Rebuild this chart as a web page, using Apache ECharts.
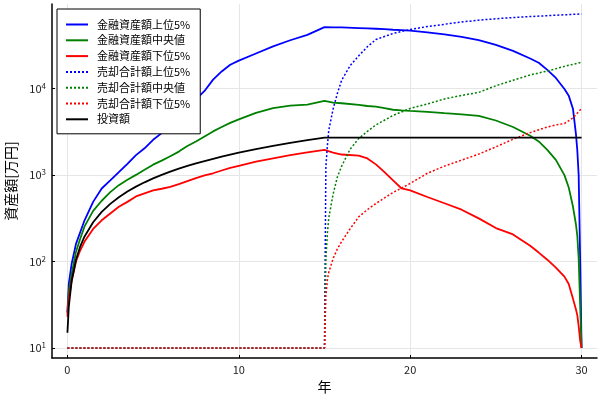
<!DOCTYPE html>
<html>
<head>
<meta charset="utf-8">
<script src="https://cdn.jsdelivr.net/npm/echarts@6/dist/echarts.min.js"></script>
<style>
  html, body { margin: 0; padding: 0; background: #fff; }
  #chart { width: 600px; height: 400px; }
</style>
</head>
<body>
<div id="chart"></div>
<script>
// 年（金融資産額・投資額）
var years = [0, 0.08, 0.25, 0.5, 0.75, 1, 1.5, 2, 2.5, 3, 3.5, 4, 4.5, 5, 5.5, 6, 6.5, 7, 7.5, 8, 8.5, 9, 9.5, 10,
  11, 12, 13, 14, 15, 15.5, 16, 17, 17.5, 18, 18.5, 19, 19.5, 20, 21, 22, 23, 24, 25, 26, 27, 27.5, 28, 28.5,
  29, 29.25, 29.5, 29.67, 29.75, 29.83, 29.92, 30];

var assetTop = [26, 55, 95, 160, 220, 300, 490, 700, 870, 1085, 1350, 1700, 2040, 2560, 3060, 3900, 4800, 5900, 7500, 9400, 12700, 15800, 18900, 21100,
  25500, 30800, 36300, 41800, 51500, 51200, 51000, 50200, 49800, 49300, 48700, 48000, 47500, 46900, 44800, 42500, 39700, 36500, 32000, 27300, 22300, 19900, 16500, 13300,
  9900, 8300, 5800, 3000, 1950, 1000, 100, 10];
var assetMid = [25, 45, 72, 130, 185, 255, 385, 505, 635, 765, 885, 1005, 1150, 1320, 1470, 1650, 1870, 2170, 2450, 2800, 3200, 3600, 4020, 4420,
  5250, 5950, 6350, 6550, 7200, 6900, 6780, 6500, 6300, 6180, 5950, 5700, 5600, 5520, 5380, 5200, 5030, 4850, 4280, 3600, 2850, 2450, 1960, 1500,
  1000, 720, 430, 270, 200, 110, 30, 10];
var assetLow = [23, 38, 60, 100, 135, 170, 238, 300, 360, 430, 490, 566, 615, 665, 695, 730, 785, 850, 920, 990, 1050, 1130, 1210, 1280,
  1430, 1560, 1700, 1830, 1960, 1820, 1730, 1680, 1560, 1330, 1080, 870, 700, 665, 558, 472, 398, 316, 244, 206, 152, 127, 105, 85,
  67, 55, 37, 28, 24, 18, 12, 10];
var invested = [15, 30, 60, 105, 150, 195, 285, 375, 465, 555, 645, 735, 825, 915, 1005, 1095, 1185, 1275, 1365, 1455, 1545, 1635, 1725, 1815,
  1995, 2175, 2355, 2535, 2715, 2715, 2715, 2715, 2715, 2715, 2715, 2715, 2715, 2715, 2715, 2715, 2715, 2715, 2715, 2715, 2715, 2715, 2715, 2715,
  2715, 2715, 2715, 2715, 2715, 2715, 2715, 2715];

// 年（売却合計額）
var saleYears = [0, 15, 15.08, 15.17, 15.25, 15.5, 15.75, 16, 16.5, 17, 17.5, 18, 19, 20, 21, 22, 23, 24, 25, 26, 27, 28, 28.5, 29, 29.5, 30];
var saleTop = [10, 10, 1250, 2200, 3300, 5800, 8800, 12500, 18500, 24000, 30500, 37000, 43500, 48300, 52300, 55500, 59000, 62000, 64300, 66500, 68200, 69800, 70700, 71500, 72300, 73000];
var saleMid = [10, 10, 106, 215, 320, 600, 950, 1270, 2000, 2650, 3200, 3800, 4900, 5900, 6650, 7600, 8350, 9050, 10800, 12500, 14400, 16000, 17000, 18100, 19100, 20200];
var saleLow = [10, 10, 40, 62, 75, 108, 140, 170, 240, 330, 398, 470, 630, 800, 1050, 1270, 1490, 1750, 2120, 2600, 3100, 3600, 3800, 3950, 4600, 5900];

function pairs(xs, ys) {
  return xs.map(function (x, i) { return [x, ys[i]]; });
}

var chart = echarts.init(document.getElementById('chart'));

var solid = function (name, color, xs, ys) {
  return {
    name: name, type: 'line', data: pairs(xs, ys),
    showSymbol: false, symbol: 'none',
    lineStyle: { color: color, width: 1.8 }, itemStyle: { color: color, opacity: 0 }
  };
};
var dotted = function (name, color, xs, ys) {
  return {
    name: name, type: 'line', data: pairs(xs, ys),
    showSymbol: false, symbol: 'none',
    lineStyle: { color: color, width: 1.5, type: [2, 2] }, itemStyle: { color: color, opacity: 0 }
  };
};

var font = '"Noto Sans CJK JP", "Noto Sans", sans-serif';

var option = {
  animation: false,
  textStyle: { fontFamily: font },
  grid: { left: 52, right: 3, top: 4, bottom: 42, containLabel: false, outerBoundsMode: 'none' },
  legend: {
    orient: 'vertical', left: 57, top: 9,
    padding: [10, 10, 9, 8],
    itemWidth: 22, itemHeight: 10, itemGap: 4.8,
    backgroundColor: '#fff', borderColor: '#000', borderWidth: 1,
    textStyle: { fontSize: 11, lineHeight: 10, color: '#000', fontFamily: font, padding: [0, 0, 0, 4] }
  },
  xAxis: {
    type: 'value', min: -0.9, max: 30.9, splitNumber: 3,
    name: '年', nameLocation: 'middle', nameGap: 20,
    nameTextStyle: { fontSize: 14, color: '#000', fontFamily: font },
    axisLine: { show: true, onZero: false, lineStyle: { color: '#000', width: 1.5 } },
    axisTick: { show: true, inside: true, length: 3, lineStyle: { color: '#000' } },
    axisLabel: {
      color: '#222', fontSize: 11, margin: 6, showMinLabel: false, showMaxLabel: false,
      formatter: function (v) { return (Math.abs(v % 10) < 1e-6) ? String(v) : ''; }
    },
    splitLine: { show: true, showMinLine: false, showMaxLine: false, lineStyle: { color: '#e6e6e6', width: 1 } }
  },
  yAxis: {
    type: 'log', logBase: 10, min: 7.66, max: 95300,
    name: '資産額[万円]', nameLocation: 'middle', nameGap: 34,
    nameTextStyle: { fontSize: 14, color: '#000', fontFamily: font },
    axisLine: { show: true, onZero: false, lineStyle: { color: '#000', width: 1.5 } },
    axisTick: { show: true, inside: true, length: 3, lineStyle: { color: '#000' } },
    axisLabel: {
      color: '#222', fontSize: 11, margin: 6, showMinLabel: false, showMaxLabel: false,
      formatter: function (v) {
        var l = Math.log10(v);
        if (Math.abs(l - Math.round(l)) > 1e-6) return '';
        return '10{sup|' + Math.round(l) + '}';
      },
      rich: { sup: { fontSize: 8, verticalAlign: 'top', padding: [0, 0, 6, 0], color: '#222' } }
    },
    splitLine: { show: true, showMinLine: false, showMaxLine: false, lineStyle: { color: '#e6e6e6', width: 1 } }
  },
  series: [
    solid('金融資産額上位5%', '#0000ff', years, assetTop),
    solid('金融資産額中央値', '#008000', years, assetMid),
    solid('金融資産額下位5%', '#ff0000', years, assetLow),
    dotted('売却合計額上位5%', '#0000ff', saleYears, saleTop),
    dotted('売却合計額中央値', '#008000', saleYears, saleMid),
    dotted('売却合計額下位5%', '#ff0000', saleYears, saleLow),
    solid('投資額', '#000000', years, invested)
  ]
};

chart.setOption(option);
</script>
</body>
</html>
